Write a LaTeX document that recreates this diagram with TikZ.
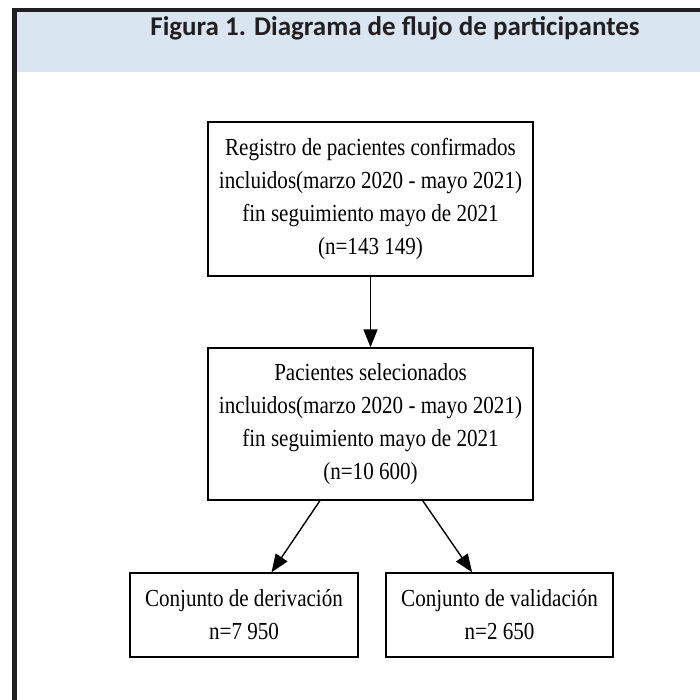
\documentclass[tikz,border=0pt]{standalone}
\usepackage{fontspec}
\usetikzlibrary{arrows.meta,calc}
\newfontfamily\boxfont[FakeStretch=0.86]{Liberation Serif}
\newfontfamily\ttlfont{Carlito}
\definecolor{hdrblue}{RGB}{217,229,241}
\definecolor{framek}{RGB}{35,31,32}
\tikzset{
  flowbox/.style={draw=black, line width=1.4pt, inner sep=0pt, align=center,
    font=\boxfont\fontsize{24.5}{33}\selectfont},
  flowarrow/.style={draw=black, line width=1.4pt, -{Triangle[length=18pt,width=14pt]}}
}
\begin{document}
\begin{tikzpicture}[x=1pt,y=-1pt]
\useasboundingbox (0,0) rectangle (700,700);
\fill[white] (0,0) rectangle (700,700);
% header band
\fill[hdrblue] (17,12) rectangle (700,72);
\draw[framek, line width=4.5pt] (12,10) -- (700,10);
\draw[framek, line width=5pt] (14.5,8) -- (14.5,700);
\node[font=\ttlfont\bfseries\fontsize{27}{30}\selectfont, text=framek, anchor=base] (title) at (395,36) {Figura 1. Diagrama de flujo de participantes};
% boxes
\node[flowbox, minimum width=325pt, minimum height=154pt] (b1) at (370.5,199)
  {Registro de pacientes confirmados\\incluidos(marzo 2020 - mayo 2021)\\fin seguimiento mayo de 2021\\(n=143 149)};
\node[flowbox, minimum width=325pt, minimum height=152pt] (b2) at (370.5,424)
  {Pacientes selecionados\\incluidos(marzo 2020 - mayo 2021)\\fin seguimiento mayo de 2021\\(n=10 600)};
\node[flowbox, minimum width=228pt, minimum height=84pt] (b3) at (244,615)
  {Conjunto de derivación\\n=7 950};
\node[flowbox, minimum width=227pt, minimum height=84pt] (b4) at (499.5,615)
  {Conjunto de validación\\n=2 650};
% arrows
\draw[flowarrow] (b1.south) -- (b2.north);
\draw[flowarrow] ($(b2.south west)!0.345!(b2.south east)$) -- ($(b3.north west)!0.62!(b3.north east)$);
\draw[flowarrow] ($(b2.south west)!0.66!(b2.south east)$) -- ($(b4.north west)!0.38!(b4.north east)$);
\end{tikzpicture}
\end{document}
